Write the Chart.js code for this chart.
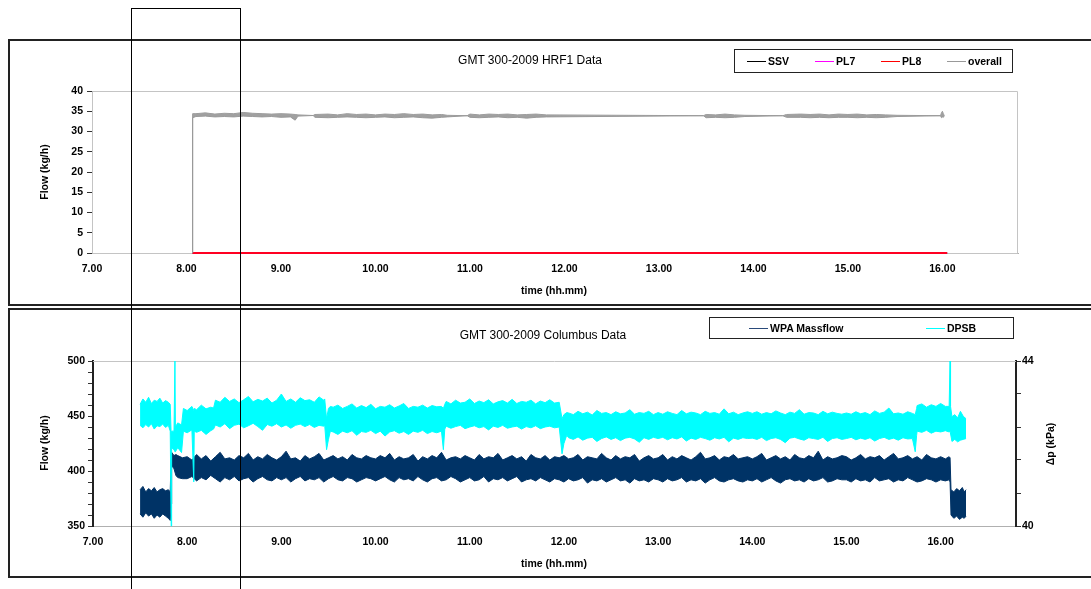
<!DOCTYPE html>
<html>
<head>
<meta charset="utf-8">
<script src="https://cdn.jsdelivr.net/npm/chart.js@4.4.1/dist/chart.umd.min.js"></script>
<style>
  html,body{margin:0;padding:0;background:#fff;width:1091px;height:589px;overflow:hidden;position:relative;font-family:"Liberation Sans",Arial,sans-serif;}
  canvas{position:absolute;left:0;top:0;}
  .box{position:absolute;box-sizing:border-box;border:2px solid #222;}
  .t{position:absolute;white-space:nowrap;text-align:center;color:#000;}
  .title{font-size:12px;line-height:14px;}
  .ax{font-size:10.5px;font-weight:bold;line-height:12px;}
  .rot{transform:rotate(-90deg);transform-origin:50% 50%;}
  .leg{position:absolute;box-sizing:border-box;border:1px solid #222;background:#fff;}
  .ll{position:absolute;height:1px;width:19px;}
  .lt{position:absolute;font-size:10.5px;font-weight:bold;line-height:12px;white-space:nowrap;}
</style>
</head>
<body>
<canvas id="c2" width="1091" height="589"></canvas>
<canvas id="c1" width="1091" height="589"></canvas>

<div class="box" style="left:8px;top:39px;width:1100px;height:267px;"></div>
<div class="box" style="left:8px;top:308px;width:1100px;height:270px;"></div>

<div class="t title" style="left:330px;width:400px;top:53px;">GMT 300-2009 HRF1 Data</div>
<div class="t title" style="left:343px;width:400px;top:328px;">GMT 300-2009 Columbus Data</div>
<div class="t ax" style="left:454px;width:200px;top:284px;">time (hh.mm)</div>
<div class="t ax" style="left:454px;width:200px;top:557px;">time (hh.mm)</div>
<div class="t ax rot" style="left:-6px;width:100px;top:166px;">Flow (kg/h)</div>
<div class="t ax rot" style="left:-6px;width:100px;top:437px;">Flow (kg/h)</div>
<div class="t ax rot" style="left:1000px;width:100px;top:438px;">Δp (kPa)</div>

<div class="leg" style="left:734px;top:49px;width:279px;height:24px;"></div>
<div class="ll" style="left:747px;top:61px;background:#000;"></div><div class="lt" style="left:768px;top:55px;">SSV</div>
<div class="ll" style="left:815px;top:61px;background:#ff00ff;"></div><div class="lt" style="left:836px;top:55px;">PL7</div>
<div class="ll" style="left:881px;top:61px;background:#ff0000;"></div><div class="lt" style="left:902px;top:55px;">PL8</div>
<div class="ll" style="left:947px;top:61px;background:#999;"></div><div class="lt" style="left:968px;top:55px;">overall</div>

<div class="leg" style="left:709px;top:317px;width:305px;height:22px;"></div>
<div class="ll" style="left:749px;top:328px;background:#2a4a7a;"></div><div class="lt" style="left:770px;top:322px;">WPA Massflow</div>
<div class="ll" style="left:926px;top:328px;background:#00ffff;"></div><div class="lt" style="left:947px;top:322px;">DPSB</div>

<div style="position:absolute;left:131px;top:8px;width:110px;height:600px;box-sizing:border-box;border:1px solid #000;"></div>

<script>
// ---------- tick labels ----------
const xTicks = [7, 8, 9, 10, 11, 12, 13, 14, 15, 16];
const hrfYTicks = [0, 5, 10, 15, 20, 25, 30, 35, 40];
const flowYTicks = [350, 360, 370, 380, 390, 400, 410, 420, 430, 440, 450, 460, 470, 480, 490, 500];
const flowYLabels = [350, 400, 450, 500];
const dpTicks = [40, 40.8, 41.6, 42.4, 43.2, 44];
const dpLabels = [40, 44];

// ---------- HRF1 data (kg/h) ----------
const zeroT = [8.06, 16.05];
const ssvVals = [0, 0];
const pl7Vals = [0, 0];
const pl8Vals = [0, 0];
// "overall" noise envelope (upper / lower)
const overallT  = [8.06, 8.065, 8.1, 8.2, 8.3, 8.4, 8.5, 8.6, 8.7, 8.8, 8.9, 9.0, 9.1, 9.15, 9.18, 9.34, 9.36, 9.5, 9.6, 9.7, 9.8, 9.9, 10.0, 10.1, 10.2, 10.3, 10.4, 10.5, 10.6, 10.7, 10.76, 10.97, 11.0, 11.1, 11.2, 11.3, 11.4, 11.5, 11.6, 11.7, 11.81, 13.47, 13.5, 13.6, 13.7, 13.8, 13.91, 14.31, 14.35, 14.5, 14.6, 14.7, 14.8, 14.9, 15.0, 15.1, 15.2, 15.3, 15.4, 15.52, 15.98, 15.99, 16.0, 16.01, 16.02];
const overallHi = [0, 34.4, 34.4, 34.6, 34.3, 34.5, 34.4, 34.7, 34.5, 34.4, 34.3, 34.4, 34.3, 34.2, 34.1, 33.95, 34.2, 34.3, 34.1, 34.4, 34.2, 34.3, 34.1, 34.3, 34.2, 34.4, 34.2, 34.3, 34.1, 34.2, 34.0, 33.9, 34.3, 34.1, 34.3, 34.2, 34.3, 34.1, 34.2, 34.3, 34.1, 33.9, 34.2, 34.1, 34.3, 34.1, 34.0, 33.9, 34.2, 34.3, 34.2, 34.3, 34.1, 34.3, 34.2, 34.3, 34.1, 34.2, 34.1, 34.0, 33.9, 34.6, 35.0, 34.4, 33.9];
const overallLo = [0, 33.4, 33.7, 33.8, 33.6, 33.7, 33.6, 33.8, 33.7, 33.6, 33.7, 33.5, 33.6, 32.8, 33.8, 33.95, 33.5, 33.4, 33.5, 33.6, 33.5, 33.4, 33.5, 33.6, 33.4, 33.5, 33.6, 33.4, 33.3, 33.5, 33.6, 33.9, 33.5, 33.4, 33.5, 33.6, 33.4, 33.5, 33.3, 33.5, 33.6, 33.9, 33.4, 33.5, 33.4, 33.5, 33.7, 33.9, 33.5, 33.5, 33.4, 33.5, 33.4, 33.5, 33.5, 33.4, 33.5, 33.4, 33.5, 33.7, 33.9, 33.4, 33.6, 33.5, 33.9];

// ---------- Columbus data ----------
// WPA Massflow (kg/h) noise envelope
const wpaT = [
  7.50, 7.53, 7.56, 7.59, 7.62, 7.65, 7.68, 7.71, 7.74, 7.77, 7.80, 7.82,
  7.83, 7.835, 7.86, 7.88,
  7.90, 7.95,
  8.00, 8.05, 8.10, 8.15, 8.20, 8.25, 8.30, 8.35, 8.40, 8.45, 8.50, 8.55, 8.60, 8.65, 8.70, 8.75, 8.80, 8.85, 8.90, 8.95,
  9.00, 9.05, 9.10, 9.15, 9.20, 9.25, 9.30, 9.35, 9.40, 9.45, 9.50, 9.55, 9.60, 9.65, 9.70, 9.75, 9.80, 9.85, 9.90, 9.95,
  10.00, 10.05, 10.10, 10.15, 10.20, 10.25, 10.30, 10.35, 10.40, 10.45, 10.50, 10.55, 10.60, 10.65, 10.70, 10.75, 10.80, 10.85, 10.90, 10.95,
  11.00, 11.05, 11.10, 11.15, 11.20, 11.25, 11.30, 11.35, 11.40, 11.45, 11.50, 11.55, 11.60, 11.65, 11.70, 11.75, 11.80, 11.85, 11.90, 11.95,
  12.00, 12.05, 12.10, 12.15, 12.20, 12.25, 12.30, 12.35, 12.40, 12.45, 12.50, 12.55, 12.60, 12.65, 12.70, 12.75, 12.80, 12.85, 12.90, 12.95,
  13.00, 13.05, 13.10, 13.15, 13.20, 13.25, 13.30, 13.35, 13.40, 13.45, 13.50, 13.55, 13.60, 13.65, 13.70, 13.75, 13.80, 13.85, 13.90, 13.95,
  14.00, 14.05, 14.10, 14.15, 14.20, 14.25, 14.30, 14.35, 14.40, 14.45, 14.50, 14.55, 14.60, 14.65, 14.70, 14.75, 14.80, 14.85, 14.90, 14.95,
  15.00, 15.05, 15.10, 15.15, 15.20, 15.25, 15.30, 15.35, 15.40, 15.45, 15.50, 15.55, 15.60, 15.65, 15.70, 15.75, 15.80, 15.85, 15.90, 15.95,
  16.00, 16.05,
  16.09, 16.10, 16.11, 16.14, 16.17, 16.20, 16.23, 16.25, 16.27];
const wpaHi = [
  383, 386, 381, 384, 382, 385, 381, 383, 384, 382, 383, 381,
  416, 417, 414, 415,
  414, 412,
  413, 410, 415, 411, 414, 409, 413, 417, 411, 412, 410, 414, 412, 416, 410, 413, 411, 415, 412, 410,
  413, 418, 411, 412, 409, 414, 411, 413, 416, 410, 412, 414, 411, 413, 410, 415, 412, 411, 414, 412,
  411, 414, 412, 416, 410, 413, 411, 412, 415, 409, 413, 411, 414, 412, 417, 410, 412, 413, 411, 414,
  412, 410, 415, 411, 413, 412, 416, 410, 412, 414, 411, 413, 409, 415, 412, 411, 414, 410, 413, 412,
  414, 411, 412, 415, 410, 413, 412, 411, 416, 412, 410, 414, 411, 413, 412, 415, 409, 412, 414, 411,
  412, 415, 410, 413, 411, 414, 412, 410, 413, 417, 411, 412, 414, 410, 413, 412, 415, 411, 412, 413,
  411, 413, 416, 410, 412, 414, 411, 413, 410, 415, 412, 411, 414, 412, 418, 410, 413, 411, 412, 414,
  413, 410, 412, 415, 411, 413, 412, 414, 410, 413, 416, 411, 412, 414, 411, 413, 410, 415, 412, 411,
  413, 411,
  413, 412, 383, 381, 384, 382, 385, 381, 383];
const wpaLo = [
  361, 358, 362, 359, 361, 357, 360, 358, 361, 359, 357, 355,
  370, 405, 402, 396,
  394, 393,
  393, 395, 391, 394, 392, 396, 393, 390, 394, 392, 395, 391, 393, 394, 390, 393, 395, 392, 391, 394,
  392, 394, 390, 393, 395, 391, 393, 392, 394, 390, 393, 395, 392, 391, 394, 393, 390, 392, 394, 393,
  391, 393, 395, 392, 390, 394, 392, 393, 391, 395, 392, 390, 393, 394, 391, 392, 395, 393, 390, 392,
  394, 391, 392, 395, 390, 393, 392, 394, 391, 393, 395, 390, 392, 393, 391, 394, 392, 390, 393, 392,
  390, 393, 391, 392, 394, 389, 392, 391, 393, 390, 392, 394, 391, 392, 389, 393, 391, 392, 390, 393,
  392, 390, 393, 391, 392, 394, 390, 392, 391, 393, 389, 392, 394, 391, 390, 392, 393, 391, 390, 392,
  391, 393, 390, 392, 394, 391, 389, 392, 393, 391, 392, 390, 393, 391, 392, 394, 390, 391, 393, 392,
  392, 390, 393, 391, 392, 390, 394, 391, 392, 393, 390, 392, 391, 394, 392, 390, 391, 393, 392, 390,
  392, 391,
  392, 390, 360, 357, 359, 356, 358, 357, 359];

// DPSB (kPa) noise envelope
const dpsbT = [
  7.50, 7.53, 7.56, 7.59, 7.62, 7.65, 7.68, 7.71, 7.74, 7.77, 7.80, 7.82,
  7.83, 7.835, 7.86, 7.87, 7.875, 7.90, 7.94,
  7.96, 8.00, 8.05, 8.07, 8.075, 8.10, 8.15, 8.20, 8.25, 8.28,
  8.30, 8.35, 8.40, 8.45, 8.50, 8.55, 8.60, 8.65, 8.70, 8.75, 8.80, 8.85, 8.90, 8.95, 9.00, 9.05, 9.10, 9.15, 9.20, 9.25, 9.30, 9.35, 9.40, 9.45,
  9.46, 9.48, 9.50, 9.52,
  9.55, 9.60, 9.65, 9.70, 9.75, 9.80, 9.85, 9.90, 9.95, 10.00, 10.05, 10.10, 10.15, 10.20, 10.25, 10.30, 10.35, 10.40, 10.45, 10.50, 10.55, 10.60, 10.65, 10.70,
  10.72, 10.735,
  10.75, 10.80, 10.85, 10.90, 10.95, 11.00, 11.05, 11.10, 11.15, 11.20, 11.25, 11.30, 11.35, 11.40, 11.45, 11.50, 11.55, 11.60, 11.65, 11.70, 11.75, 11.80, 11.85, 11.90, 11.95,
  11.98, 12.00, 12.03,
  12.05, 12.10, 12.15, 12.20, 12.25, 12.30, 12.35, 12.40, 12.45, 12.50, 12.55, 12.60, 12.65, 12.70, 12.75, 12.80, 12.85, 12.90, 12.95,
  13.00, 13.05, 13.10, 13.15, 13.20, 13.25, 13.30, 13.35, 13.40, 13.45, 13.50, 13.55, 13.60, 13.65, 13.70, 13.75, 13.80, 13.85, 13.90, 13.95,
  14.00, 14.05, 14.10, 14.15, 14.20, 14.25, 14.30, 14.35, 14.40, 14.45, 14.50, 14.55, 14.60, 14.65, 14.70, 14.75, 14.80, 14.85, 14.90, 14.95,
  15.00, 15.05, 15.10, 15.15, 15.20, 15.25, 15.30, 15.35, 15.40, 15.45, 15.50, 15.55, 15.60, 15.65, 15.70,
  15.73, 15.745,
  15.75, 15.80, 15.85, 15.90, 15.95, 16.00, 16.05,
  16.09, 16.10, 16.105,
  16.12, 16.15, 16.18, 16.21, 16.24, 16.27];
const dpsbHi = [
  42.95, 43.08, 43.0, 43.12, 42.97, 43.05, 43.02, 43.1, 42.98, 43.04, 43.0, 42.95,
  42.2, 42.3, 42.3, 44.0, 42.4, 42.5, 42.45,
  42.85, 42.8, 42.9, 42.8, 42.85, 42.82, 42.93, 42.84, 42.88, 42.86,
  43.05, 43.0, 43.12, 43.02, 43.08, 42.99, 43.06, 43.14, 43.01, 43.07, 43.03, 43.1, 42.98, 43.05, 43.2, 43.02, 43.08, 43.0, 43.11, 43.04, 43.06, 43.0, 43.13, 43.05,
  43.08, 42.6, 42.85, 42.9,
  42.88, 42.93, 42.85, 42.9, 42.96, 42.86, 42.92, 42.87, 42.95, 42.84, 42.9, 42.88, 42.94, 42.86, 42.91, 42.97, 42.85, 42.9, 42.88, 42.93, 42.86, 42.92, 42.89, 42.9,
  42.85, 42.95,
  43.02, 42.96, 43.05, 42.98, 43.0, 43.08, 42.97, 43.03, 42.99, 43.06, 42.96, 43.01, 43.04, 42.98, 43.07, 42.97, 43.02, 43.0, 43.05, 42.96, 43.03, 42.99, 43.06, 42.98, 43.0,
  42.6, 42.7, 42.75,
  42.74, 42.7, 42.78, 42.72, 42.76, 42.69, 42.8, 42.73, 42.75, 42.7, 42.77, 42.72, 42.74, 42.82, 42.71, 42.75, 42.73, 42.78, 42.7,
  42.75, 42.71, 42.77, 42.73, 42.7, 42.8, 42.72, 42.76, 42.74, 42.7, 42.78, 42.73, 42.75, 42.71, 42.84, 42.72, 42.76, 42.7, 42.74, 42.77,
  42.73, 42.77, 42.71, 42.75, 42.72, 42.79, 42.74, 42.7, 42.76, 42.73, 42.82, 42.71, 42.75, 42.74, 42.7, 42.78, 42.72, 42.76, 42.73, 42.71,
  42.74, 42.71, 42.77, 42.72, 42.75, 42.7, 42.79, 42.73, 42.76, 42.86, 42.72, 42.74, 42.71, 42.77, 42.73,
  42.7, 42.85,
  42.92, 42.96, 42.88, 42.94, 42.9, 42.97, 42.9,
  42.9, 44.0, 42.9,
  42.65, 42.7, 42.62, 42.78, 42.66, 42.6];
const dpsbLo = [
  42.44, 42.38, 42.46, 42.4, 42.48, 42.35, 42.43, 42.41, 42.47, 42.39, 42.44, 42.3,
  40.0, 41.9, 41.85, 41.8, 41.8, 41.9, 41.78,
  42.3, 42.26, 42.33, 41.07, 42.3, 42.27, 42.32, 42.22, 42.31, 42.35,
  42.45, 42.4, 42.48, 42.36, 42.44, 42.47, 42.38, 42.43, 42.49, 42.41, 42.32, 42.46, 42.42, 42.48, 42.4, 42.45, 42.37, 42.44, 42.47, 42.41, 42.46, 42.39, 42.44, 42.42,
  42.45, 41.85, 42.1, 42.3,
  42.28, 42.22, 42.3, 42.26, 42.31, 42.2, 42.29, 42.27, 42.32, 42.24, 42.3, 42.18, 42.28, 42.31, 42.25, 42.29, 42.22, 42.3, 42.27, 42.32, 42.24, 42.29, 42.26, 42.3,
  41.85, 42.35,
  42.42, 42.37, 42.41, 42.44, 42.36, 42.4, 42.43, 42.38, 42.41, 42.33, 42.42, 42.39, 42.44, 42.37, 42.4, 42.42, 42.35, 42.41, 42.38, 42.43, 42.36, 42.4, 42.42, 42.38, 42.4,
  41.75, 42.0, 42.2,
  42.14, 42.1, 42.16, 42.08, 42.13, 42.15, 42.05, 42.12, 42.16, 42.1, 42.14, 42.07, 42.13, 42.15, 42.11, 42.03, 42.14, 42.1, 42.15,
  42.12, 42.15, 42.09, 42.14, 42.11, 42.16, 42.06, 42.13, 42.1, 42.15, 42.12, 42.08, 42.14, 42.11, 42.15, 42.04, 42.13, 42.1, 42.14, 42.12,
  42.13, 42.1, 42.15, 42.07, 42.12, 42.14, 42.1, 42.02, 42.13, 42.15, 42.11, 42.08, 42.14, 42.12, 42.1, 42.15, 42.05, 42.12, 42.14, 42.1,
  42.12, 42.15, 42.09, 42.13, 42.1, 42.14, 42.06, 42.12, 42.15, 42.1, 42.13, 42.08, 42.14, 42.11, 42.12,
  41.8, 42.2,
  42.3, 42.27, 42.32, 42.25, 42.3, 42.28, 42.31,
  42.28, 42.3, 42.3,
  42.05, 42.1, 42.04, 42.08, 42.1, 42.12];

// ---------- helpers ----------
const pts = (t, v) => t.map((x, i) => ({x: x, y: v[i]}));
const FONT = {family: "'Liberation Sans', Arial, sans-serif", size: 10.5, weight: 'bold'};
Chart.defaults.font.family = FONT.family;
Chart.defaults.color = '#000';

const frame = {
  id: 'frame',
  beforeDatasetsDraw(chart, args, opts) {
    const {ctx, chartArea: a} = chart;
    ctx.save();
    ctx.strokeStyle = opts.color || '#c0c0c0';
    ctx.lineWidth = 1;
    ctx.beginPath();
    if (opts.full) {
      ctx.rect(a.left + 0.5, a.top + 0.5, a.right - a.left - 1, a.bottom - a.top);
    } else {
      ctx.moveTo(a.left, a.top + 0.5); ctx.lineTo(a.right, a.top + 0.5);
    }
    ctx.stroke();
    ctx.restore();
  }
};

const xScale = (h) => ({
  type: 'linear', min: 7, max: 16.8,
  afterBuildTicks: s => { s.ticks = xTicks.map(v => ({value: v})); },
  afterFit: s => { s.height = h; },
  ticks: {font: FONT, color: '#000', padding: 10, maxRotation: 0, callback: v => v.toFixed(2)},
  grid: {display: true, drawOnChartArea: false, drawTicks: false},
  border: {color: '#b0b0b0', width: 1}
});

const line = (label, data, color, w, extra) => Object.assign({
  label, data, borderColor: color, backgroundColor: color, borderWidth: w,
  pointRadius: 0, tension: 0, fill: false, clip: 6
}, extra || {});

// ---------- chart 1: HRF1 ----------
new Chart(document.getElementById('c1'), {
  type: 'line',
  data: {
    datasets: [
      line('SSV', pts(zeroT, ssvVals), '#000000', 2, {order: 5}),
      line('PL7', pts(zeroT, pl7Vals), '#ff00ff', 2, {order: 4}),
      line('PL8', pts(zeroT, pl8Vals), '#ff0022', 2, {order: 3}),
      line('overall', pts(overallT, overallHi), '#999999', 1, {order: 2}),
      line('overall-lo', pts(overallT, overallLo), '#999999', 1, {order: 1, fill: '-1', backgroundColor: '#a0a0a0'})
    ]
  },
  options: {
    responsive: false, animation: false, events: [],
    layout: {padding: {left: 0, right: 73, top: 91, bottom: 306}},
    plugins: {legend: {display: false}, tooltip: {enabled: false}, frame: {full: true, color: '#c4c4c4'}},
    scales: {
      x: xScale(30),
      y: {
        type: 'linear', min: 0, max: 40,
        afterBuildTicks: s => { s.ticks = hrfYTicks.map(v => ({value: v})); },
        afterFit: s => { s.width = 92; },
        ticks: {font: FONT, color: '#000', padding: 4},
        grid: {display: true, drawOnChartArea: false, drawTicks: true, tickLength: 5, tickColor: '#333'},
        border: {color: '#a0a0a0', width: 1}
      }
    }
  },
  plugins: [frame]
});

// ---------- chart 2: Columbus ----------
new Chart(document.getElementById('c2'), {
  type: 'line',
  data: {
    datasets: [
      line('WPA Massflow', pts(wpaT, wpaHi), '#003366', 1, {yAxisID: 'y', order: 4}),
      line('WPA-lo', pts(wpaT, wpaLo), '#003366', 1, {yAxisID: 'y', order: 3, fill: '-1'}),
      line('DPSB', pts(dpsbT, dpsbHi), '#00ffff', 1, {yAxisID: 'y2', order: 2}),
      line('DPSB-lo', pts(dpsbT, dpsbLo), '#00ffff', 1, {yAxisID: 'y2', order: 1, fill: '-1'})
    ]
  },
  options: {
    responsive: false, animation: false, events: [],
    layout: {padding: {left: 0, right: 0, top: 361, bottom: 33}},
    plugins: {legend: {display: false}, tooltip: {enabled: false}, frame: {full: false, color: '#c4c4c4'}},
    scales: {
      x: xScale(30),
      y: {
        type: 'linear', position: 'left', min: 350, max: 500,
        afterBuildTicks: s => { s.ticks = flowYTicks.map(v => ({value: v})); },
        afterFit: s => { s.width = 93; },
        ticks: {font: FONT, color: '#000', padding: 3, autoSkip: false,
                callback: v => flowYLabels.includes(v) ? String(v) : ''},
        grid: {display: true, drawOnChartArea: false, drawTicks: true, tickLength: 5, tickColor: '#333'},
        border: {color: '#222', width: 2}
      },
      y2: {
        type: 'linear', position: 'right', min: 40, max: 44,
        afterBuildTicks: s => { s.ticks = dpTicks.map(v => ({value: v})); },
        afterFit: s => { s.width = 75; },
        ticks: {font: FONT, color: '#000', padding: 1, autoSkip: false,
                callback: v => dpLabels.includes(v) ? String(v) : ''},
        grid: {display: true, drawOnChartArea: false, drawTicks: true, tickLength: 5, tickColor: '#333'},
        border: {color: '#222', width: 2}
      }
    }
  },
  plugins: [frame]
});
</script>
</body>
</html>
